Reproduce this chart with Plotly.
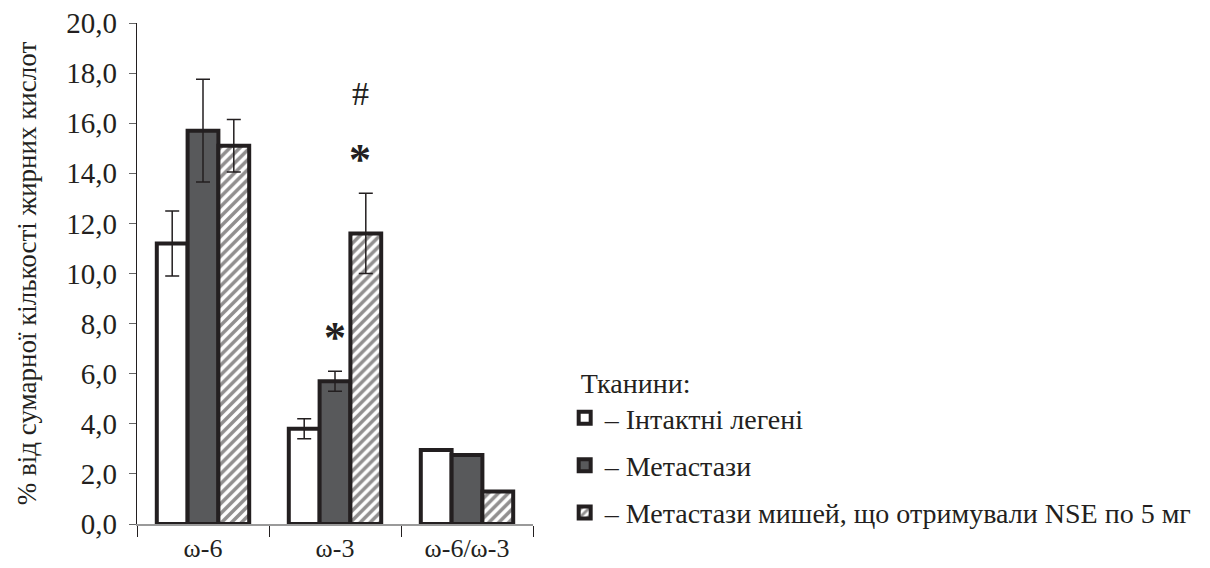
import plotly.graph_objects as go

# Fatty acid groups on the x axis
categories = ["ω-6", "ω-3", "ω-6/ω-3"]

# Series: mean share of total fatty acids (%) and standard error
intact_vals = [11.2, 3.8, 2.95]
intact_err = [1.3, 0.4, None]

metast_vals = [15.7, 5.7, 2.75]
metast_err = [2.05, 0.4, None]

nse_vals = [15.1, 11.6, 1.3]
nse_err = [1.05, 1.6, None]

series_names = [
    "– Інтактні легені",
    "– Метастази",
    "– Метастази мишей, що отримували NSE по 5 мг",
]

y_ticks = [0, 2, 4, 6, 8, 10, 12, 14, 16, 18, 20]

INK = "#231f20"
FONT = "Liberation Serif, Times New Roman, serif"


def err(vals):
    return [0 if v is None else v for v in vals]


fig = go.Figure()

fig.add_bar(
    x=categories, y=intact_vals, name=series_names[0], legendgroup="a",
    marker=dict(color="white", line=dict(color=INK, width=4)),
    error_y=dict(type="data", array=err(intact_err), visible=True,
                 color=INK, thickness=1.5, width=7),
)
fig.add_bar(
    x=categories, y=metast_vals, name=series_names[1], legendgroup="b",
    marker=dict(color="#58595b", line=dict(color=INK, width=4)),
    error_y=dict(type="data", array=err(metast_err), visible=True,
                 color=INK, thickness=1.5, width=7),
)
fig.add_bar(
    x=categories, y=nse_vals, name=series_names[2], legendgroup="c",
    marker=dict(color="white", line=dict(color=INK, width=4),
                pattern=dict(shape="/", fgcolor=INK, bgcolor="white",
                             size=7, solidity=0.5)),
    error_y=dict(type="data", array=err(nse_err), visible=True,
                 color=INK, thickness=1.5, width=7),
)

# Significance marks
marks = [
    dict(x="ω-3", y=7.45, text="<b>*</b>", xshift=0, size=44),
    dict(x="ω-3", y=14.55, text="<b>*</b>", xshift=25, size=44),
    dict(x="ω-3", y=17.2, text="#", xshift=25, size=34),
]
for m in marks:
    fig.add_annotation(
        x=m["x"], y=m["y"], text=m["text"], xshift=m["xshift"],
        showarrow=False, xref="x", yref="y",
        font=dict(family=FONT, size=m["size"], color=INK),
    )

fig.update_layout(
    width=1210, height=568,
    margin=dict(l=137, r=670, t=23, b=44),
    plot_bgcolor="white", paper_bgcolor="white",
    separators=", ",
    barmode="group", bargap=0.3, bargroupgap=0,
    font=dict(family=FONT, size=26, color=INK),
    showlegend=True,
    legend=dict(
        x=1.08, y=0.334, xanchor="left", yanchor="top",
        title=dict(text="&nbsp;&nbsp;Тканини:",
                   font=dict(family=FONT, size=28, color=INK)),
        font=dict(family=FONT, size=28, color=INK),
        tracegroupgap=8, itemwidth=30,
        bgcolor="rgba(0,0,0,0)",
    ),
    xaxis=dict(
        automargin=False,
        showline=True, linecolor="#9a9a9a", linewidth=1.5,
        ticks="outside", tickson="boundaries", ticklen=11, tickcolor=INK,
        tickwidth=1, tickfont=dict(family=FONT, size=26, color=INK),
        showgrid=False,
    ),
    yaxis=dict(
        automargin=False,
        range=[0, 20], tickvals=y_ticks, tickformat=".1f",
        showline=True, linecolor=INK, linewidth=1.2,
        ticks="outside", ticklen=7, tickcolor="#666", tickwidth=1,
        ticklabelstandoff=6,
        tickfont=dict(family=FONT, size=29, color=INK),
        showgrid=False, zeroline=False,
        title=dict(text="% від сумарної кількості жирних кислот",
                   font=dict(family=FONT, size=27, color=INK), standoff=21),
    ),
)

fig.write_html("out.html")
